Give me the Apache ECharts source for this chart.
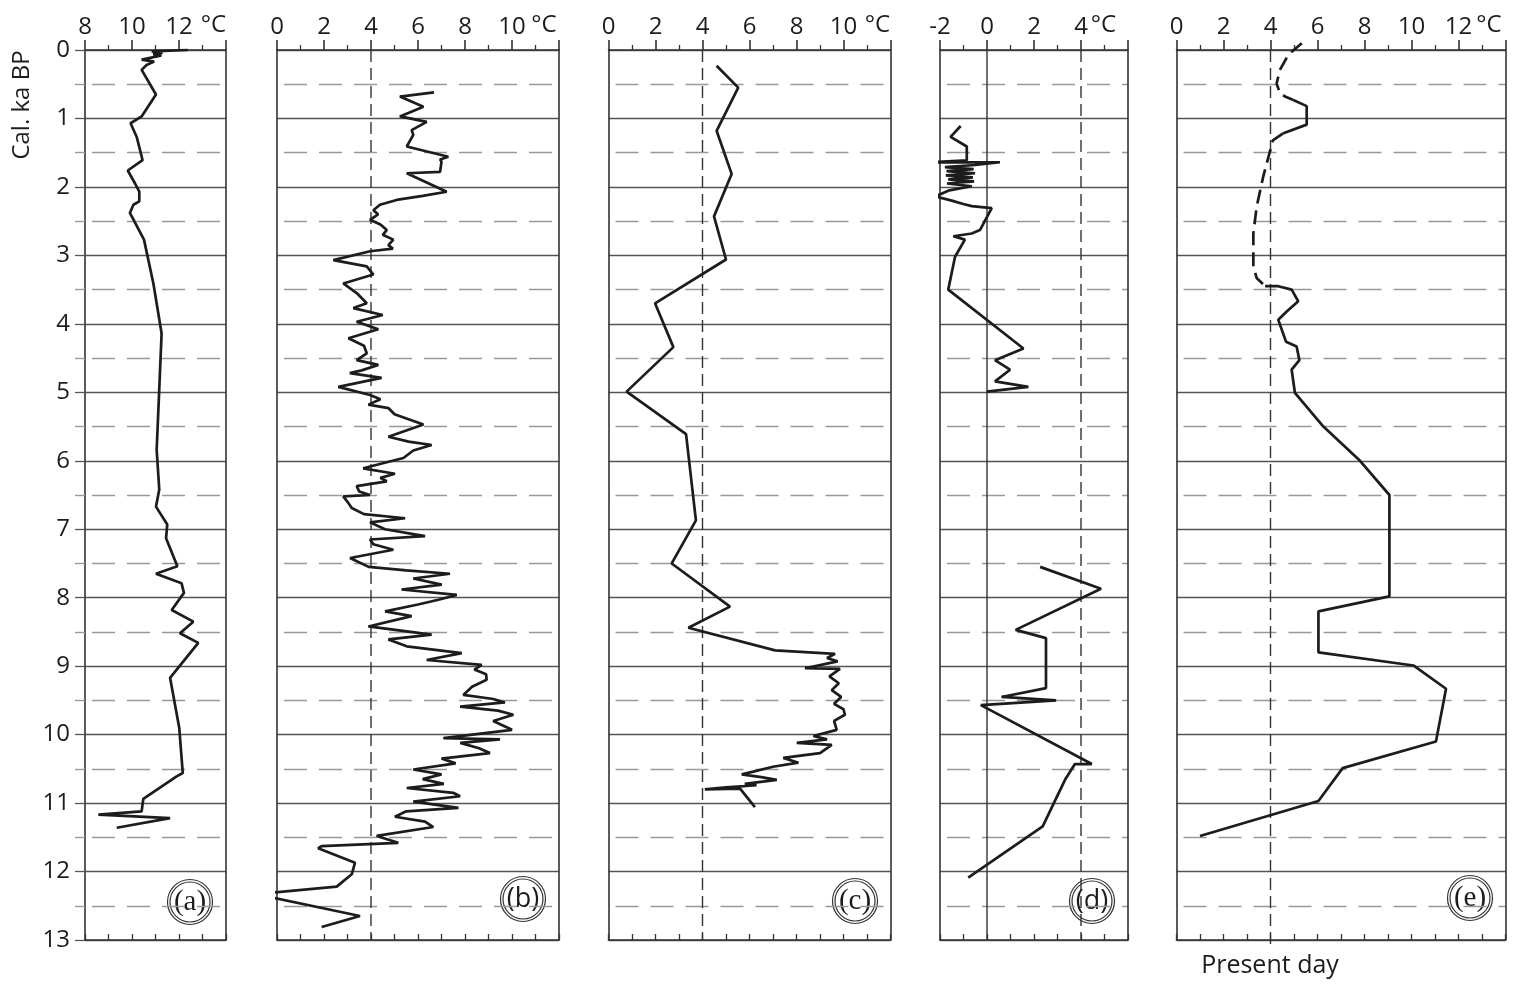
<!DOCTYPE html>
<html><head><meta charset="utf-8">
<script src="https://cdn.jsdelivr.net/npm/echarts@6/dist/echarts.min.js"></script>
<style>html,body{margin:0;padding:0;background:#fff}#c{width:1518px;height:987px}</style>
</head><body><div id="c"></div>
<script>
// ---- data: [age (cal. ka BP), temperature (°C)] ----
const seriesA = [[0,12.37],[0.02,10.84],[0.04,11.3],[0.06,10.9],[0.08,11.25],[0.14,10.41],[0.17,10.94],[0.22,10.62],[0.29,10.41],[0.65,11.02],[0.97,10.41],[1.07,9.94],[1.27,10.2],[1.61,10.45],[1.76,9.82],[1.95,10.13],[2.07,10.31],[2.21,10.31],[2.26,10.06],[2.38,9.91],[2.77,10.51],[3.41,10.91],[4.14,11.26],[5.84,11.05],[6.42,11.16],[6.67,11.02],[6.93,11.5],[7.13,11.45],[7.54,11.93],[7.65,11.02],[7.79,12.11],[7.93,12.21],[8.18,11.69],[8.35,12.61],[8.52,12.04],[8.66,12.82],[9.17,11.62],[9.9,12.01],[10.56,12.16],[10.61,11.9],[10.94,10.48],[11.12,10.41],[11.17,8.57],[11.22,11.62],[11.36,9.35]];

const seriesB = [[0.62,6.68],[0.68,5.23],[0.83,6.23],[0.97,5.23],[1.05,6.37],[1.17,5.73],[1.24,5.8],[1.41,5.52],[1.56,7.29],[1.60,6.94],[1.63,7.0],[1.78,6.94],[1.80,5.52],[2.07,7.22],[2.13,6.2],[2.19,5.09],[2.26,4.38],[2.34,4.1],[2.40,4.3],[2.48,3.96],[2.55,4.4],[2.63,4.67],[2.70,4.5],[2.77,4.95],[2.85,4.74],[2.90,4.93],[2.94,3.96],[3.07,2.4],[3.16,3.82],[3.28,4.1],[3.41,2.82],[3.55,3.39],[3.70,3.82],[3.77,3.25],[3.87,4.5],[3.97,3.39],[4.08,4.31],[4.21,3.04],[4.32,3.7],[4.43,3.82],[4.53,3.39],[4.60,4.31],[4.68,3.6],[4.72,3.1],[4.79,4.45],[4.92,2.61],[5.04,3.96],[5.10,4.4],[5.18,3.89],[5.23,4.74],[5.32,5.0],[5.47,6.23],[5.65,4.74],[5.72,5.6],[5.77,6.58],[5.85,5.8],[5.96,5.38],[6.11,3.67],[6.19,5.02],[6.25,4.4],[6.30,4.67],[6.37,3.39],[6.45,3.5],[6.50,3.96],[6.52,2.82],[6.60,3.0],[6.69,3.18],[6.78,3.7],[6.84,5.45],[6.90,3.96],[7.00,4.6],[7.10,6.3],[7.15,3.96],[7.22,4.1],[7.30,4.95],[7.42,3.11],[7.55,3.9],[7.60,5.5],[7.65,7.36],[7.72,5.8],[7.81,7.01],[7.88,5.3],[7.96,7.65],[8.03,6.87],[8.10,6.0],[8.20,4.6],[8.27,5.73],[8.42,3.89],[8.54,6.58],[8.61,4.74],[8.71,5.52],[8.81,7.86],[8.91,6.37],[8.98,8.71],[9.05,8.4],[9.12,8.9],[9.20,8.92],[9.30,8.3],[9.42,7.93],[9.48,9.2],[9.53,9.7],[9.59,7.79],[9.65,9.4],[9.71,10.06],[9.80,9.2],[9.93,10.0],[10.05,7.08],[10.07,9.49],[10.12,7.8],[10.20,8.6],[10.27,9.06],[10.35,7.0],[10.42,7.6],[10.51,5.8],[10.58,7.0],[10.65,6.2],[10.72,7.1],[10.78,5.52],[10.85,7.5],[10.90,7.79],[10.98,5.8],[11.07,7.72],[11.12,5.5],[11.20,5.02],[11.27,6.3],[11.35,6.65],[11.48,4.24],[11.58,5.16],[11.63,1.9],[11.66,1.75],[11.87,3.32],[12.04,3.18],[12.22,2.54],[12.33,-0.9],[12.65,3.53],[12.81,1.9]];

const seriesC = [[0.23,4.6],[0.55,5.52],[1.18,4.6],[1.81,5.24],[2.43,4.49],[3.06,5.0],[3.70,1.98],[4.34,2.76],[4.99,0.77],[5.61,3.3],[6.87,3.72],[7.50,2.69],[8.13,5.17],[8.44,3.4],[8.77,7.09],[8.82,9.64],[8.88,9.3],[8.93,9.75],[9.03,8.36],[9.04,9.85],[9.15,9.4],[9.25,9.8],[9.35,9.5],[9.45,9.9],[9.55,9.6],[9.63,10.0],[9.71,10.06],[9.80,9.6],[9.93,9.71],[10.02,8.72],[10.07,9.3],[10.12,8.01],[10.15,9.5],[10.27,9.0],[10.34,7.44],[10.41,8.08],[10.47,7.0],[10.54,6.16],[10.58,5.67],[10.62,6.5],[10.66,7.16],[10.72,5.8],[10.74,6.3],[10.77,5.0],[10.80,4.1],[10.79,5.6],[11.06,6.23]];

const seriesD1 = [[1.11,-1.12],[1.27,-1.55],[1.41,-0.86],[1.61,-0.86],[1.64,-2.31],[1.64,0.55],[1.68,-0.5],[1.71,-1.79],[1.74,-0.57],[1.77,-1.72],[1.80,-0.51],[1.83,-1.75],[1.86,-0.6],[1.89,-1.65],[1.92,-0.55],[1.95,-1.7],[1.99,-0.65],[2.05,-1.6],[2.14,-2.21],[2.20,-1.5],[2.25,-1.01],[2.28,-0.65],[2.31,0.2],[2.63,-0.3],[2.68,-0.65],[2.72,-1.43],[2.77,-0.94],[3.02,-1.36],[3.5,-1.65],[4.36,1.55],[4.53,0.34],[4.67,0.98],[4.84,0.34],[4.92,1.76],[4.99,-0.01]];
const seriesD2 = [[7.55,2.26],[7.87,4.85],[8.47,1.22],[8.59,2.51],[9.32,2.51],[9.45,0.62],[9.5,2.94],[9.57,-0.26],[10.43,4.46],[10.43,3.74],[10.66,3.32],[11.34,2.37],[12.09,-0.8]];

const seriesEDashed1 = [[-0.1,5.33],[0.07,4.76],[0.29,4.4],[0.49,4.26],[0.63,4.4],[0.68,4.62],[0.73,4.97]];
const seriesESolid1 = [[0.73,4.97],[0.82,5.54],[1.09,5.54],[1.22,4.52]];
const seriesEDashed2 = [[1.22,4.52],[1.32,4.1],[1.85,3.69],[2.29,3.41],[2.68,3.27],[3.16,3.27],[3.33,3.41],[3.45,3.77]];
const seriesESolid2 = [[3.45,3.77],[3.45,4.33],[3.5,4.9],[3.67,5.18],[3.82,4.69],[3.94,4.33],[4.26,4.66],[4.33,5.11],[4.53,5.23],[4.67,4.9],[5.01,5.04],[5.5,6.25],[6.0,7.81],[6.5,9.06],[7.98,9.06],[8.2,6.04],[8.8,6.04],[8.99,10.08],[9.33,11.47],[10.1,11.04],[10.49,7.07],[10.97,6.04],[11.48,1.0]];

// ---- axes ----
const panelLabels = ['(a)','(b)','(c)','(d)','(e)'];
const tempMin = [8, 0, 0, -2, 0];
const tempMax = [14, 12, 12, 6, 14];
const ageMin = 0, ageMax = 13;
const presentDay = 4;       // present-day reference temperature line (b–e)
const zeroLine = 0;         // panel (d)

// ---- layout (pixels) ----
const gridLeft = [85, 277, 608.5, 940, 1176.5];
const gridWidth = [141, 282, 282, 188, 329];
const gridTop = 50, gridHeight = 890;

const toXY = arr => arr.map(p => [p[1], p[0]]);
const sans = '"Open Sans", "Noto Sans", sans-serif';
const serif = '"Liberation Serif", "DejaVu Serif", serif';
const ink = '#1c1c1c';

const grids = [], xAxes = [], yAxes = [], series = [];
for (let i = 0; i < 5; i++) {
  grids.push({left: gridLeft[i], top: gridTop, width: gridWidth[i], height: gridHeight,
    containLabel: false, outerBoundsMode: 'none'});
  const mx = tempMax[i];
  xAxes.push({gridIndex: i, type: 'value', position: 'top', min: tempMin[i], max: mx, interval: 2,
    axisLine: {show: true, onZero: false, lineStyle: {color: '#333', width: 1.6}},
    axisTick: {show: true, length: 10, lineStyle: {color: '#333', width: 1.6}},
    minorTick: {show: true, splitNumber: 2, length: 5, lineStyle: {color: '#333', width: 1.3}},
    axisLabel: {fontSize: 24, color: ink, fontFamily: sans, margin: 11,
      formatter: v => (v === mx ? '' : String(v))},
    splitLine: {show: false}});
  xAxes.push({gridIndex: i, type: 'value', position: 'bottom', min: tempMin[i], max: mx, interval: 1,
    axisLine: {show: true, onZero: false, lineStyle: {color: '#333', width: 1.6}},
    axisTick: {show: true, inside: true, length: 6, lineStyle: {color: '#333', width: 1.3}},
    axisLabel: {show: false}, splitLine: {show: false}});
  yAxes.push({gridIndex: i, type: 'value', inverse: true, min: ageMin, max: ageMax, interval: 1,
    position: 'left',
    axisLine: {show: true, onZero: false, lineStyle: {color: '#333', width: 1.6}},
    axisTick: {show: i === 0, length: 10, lineStyle: {color: '#555', width: 1.3}},
    minorTick: {show: i === 0, splitNumber: 2, length: 10, lineStyle: {color: '#999', width: 1.4}},
    axisLabel: {show: i === 0, fontSize: 24, color: ink, fontFamily: sans, margin: 15},
    splitLine: {show: true, lineStyle: {color: '#555', width: 1.3}},
    minorSplitLine: {show: true, lineStyle: {color: '#999', width: 1.4, type: [23, 12], dashOffset: 28}}});
  // right frame
  yAxes.push({gridIndex: i, type: 'value', inverse: true, min: ageMin, max: ageMax, position: 'right',
    axisLine: {show: true, onZero: false, lineStyle: {color: '#333', width: 1.6}},
    axisTick: {show: false}, axisLabel: {show: false}, splitLine: {show: false}});
}

const dataLine = (i, data, dashed) => ({type: 'line', xAxisIndex: 2 * i, yAxisIndex: 2 * i,
  data: toXY(data), symbol: 'none', showSymbol: false, clip: false, animation: false, z: 5,
  lineStyle: {color: ink, width: 2.7, type: dashed ? [14, 7] : 'solid'}});
const refLine = (i, x, y1, y2, dashed) => ({type: 'line', xAxisIndex: 2 * i, yAxisIndex: 2 * i,
  data: [[x, y1], [x, y2]], symbol: 'none', clip: false, animation: false, z: 3,
  lineStyle: {color: '#333', width: 1.4, type: dashed ? [12, 6] : 'solid'}});

series.push(dataLine(0, seriesA));
series.push(refLine(1, presentDay, ageMin, ageMax, true));
series.push(dataLine(1, seriesB));
series.push(refLine(2, presentDay, ageMin, ageMax, true));
series.push(dataLine(2, seriesC));
series.push(refLine(3, presentDay, ageMin, ageMax, true));
series.push(refLine(3, zeroLine, ageMin, ageMax, false));
series.push(dataLine(3, seriesD1));
series.push(dataLine(3, seriesD2));
series.push(refLine(4, presentDay, ageMin, 13.1, true));
series.push(dataLine(4, seriesEDashed1, true));
series.push(dataLine(4, seriesESolid1));
series.push(dataLine(4, seriesEDashed2, true));
series.push(dataLine(4, seriesESolid2));

// ---- annotations ----
const degX = [213.5, 544, 877.5, 1103.5, 1489];
const circX = [190, 523, 855, 1092, 1470];
const circY = [902, 899, 901, 901, 898];
const circSerif = [true, false, true, false, true];
const graphic = [];
for (let i = 0; i < 5; i++) {
  graphic.push({type: 'text', x: degX[i], y: 25, z: 10,
    style: {text: '°C', fill: ink, font: '24px ' + sans, textAlign: 'center', textVerticalAlign: 'middle', verticalAlign: 'middle'}});
  graphic.push({type: 'group', x: circX[i], y: circY[i], z: 10, children: [
    {type: 'circle', shape: {cx: 0, cy: 0, r: 22.5}, style: {fill: '#fff', stroke: '#333', lineWidth: 1.2}},
    {type: 'circle', shape: {cx: 0, cy: 0, r: 20}, style: {fill: '#fff', stroke: '#333', lineWidth: 1.2}},
    {type: 'text', x: 0, y: 0, style: {text: panelLabels[i], fill: ink,
      font: (circSerif[i] ? '29px ' + serif : '27px ' + sans), textAlign: 'center', textVerticalAlign: 'middle', verticalAlign: 'middle'}}
  ]});
}
graphic.push({type: 'text', x: 22, y: 105, rotation: Math.PI / 2, z: 10,
  style: {text: 'Cal. ka BP', fill: ink, font: '24px ' + sans, textAlign: 'center', textVerticalAlign: 'middle', verticalAlign: 'middle'}});
graphic.push({type: 'text', x: 1270, y: 966, z: 10,
  style: {text: 'Present day', fill: ink, font: '25px ' + sans, textAlign: 'center', textVerticalAlign: 'middle', verticalAlign: 'middle'}});

const chart = echarts.init(document.getElementById('c'), null, {renderer: 'canvas'});
chart.setOption({animation: false, backgroundColor: '#fff', grid: grids, xAxis: xAxes, yAxis: yAxes, series, graphic});
</script>
</body></html>
